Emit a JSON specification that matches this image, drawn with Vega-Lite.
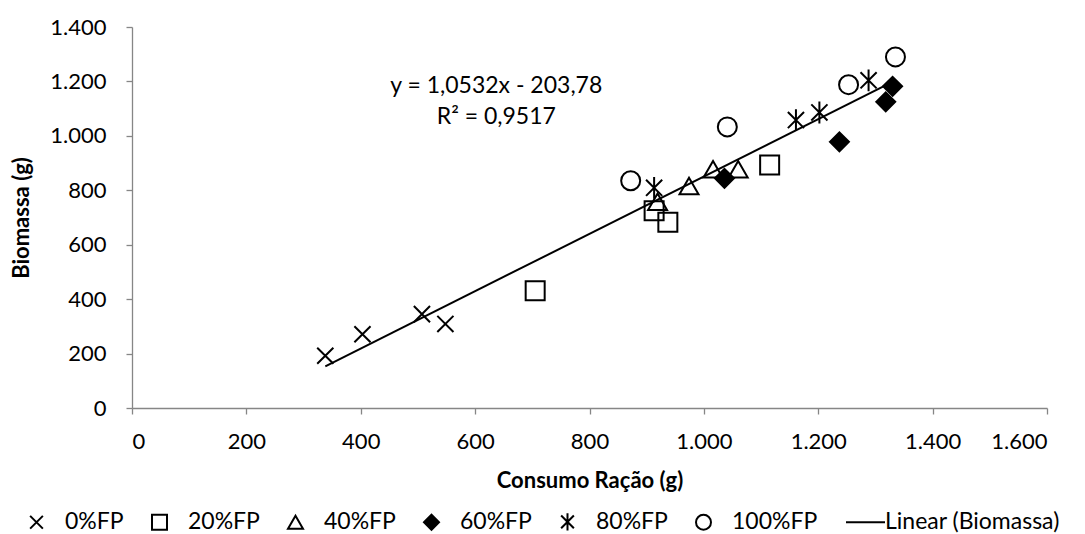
{
  "$schema": "https://vega.github.io/schema/vega-lite/v6.json",
  "width": 915,
  "height": 381,
  "autosize": {"type": "none"},
  "padding": {"left": 132, "top": 27, "right": 38, "bottom": 126},
  "background": "white",
  "config": {
    "view": {"stroke": null},
    "locale": {"number": {"decimal": ",", "thousands": ".", "grouping": [3], "currency": ["R$", ""]}},
    "font": "Lato",
    "axis": {
      "grid": false,
      "domainColor": "#868686",
      "domainWidth": 1.3,
      "tickColor": "#868686",
      "tickWidth": 1.3,
      "tickSize": 6,
      "labelFont": "Lato",
      "labelFontSize": 22,
      "labelColor": "black",
      "titleFont": "Lato",
      "titleFontSize": 22,
      "titleFontWeight": "bold",
      "titleColor": "black"
    },
    "legend": {
      "orient": "none",
      "direction": "horizontal",
      "columns": 7,
      "legendX": -107,
      "legendY": 483,
      "padding": 0,
      "symbolSize": 225,
      "symbolStrokeWidth": 2,
      "symbolStrokeColor": "black",
      "labelFont": "Lato",
      "labelFontSize": 23,
      "labelColor": "black",
      "labelOffset": 17,
      "labelLimit": 400,
      "columnPadding": 24,
      "title": null
    }
  },
  "data": {
    "values": [
      {"consumo": 338, "biomassa": 192, "tratamento": "0%FP"},
      {"consumo": 403, "biomassa": 271, "tratamento": "0%FP"},
      {"consumo": 507, "biomassa": 345, "tratamento": "0%FP"},
      {"consumo": 548, "biomassa": 309, "tratamento": "0%FP"},
      {"consumo": 705, "biomassa": 431, "tratamento": "20%FP"},
      {"consumo": 913, "biomassa": 725, "tratamento": "20%FP"},
      {"consumo": 937, "biomassa": 683, "tratamento": "20%FP"},
      {"consumo": 1115, "biomassa": 893, "tratamento": "20%FP"},
      {"consumo": 919, "biomassa": 758, "tratamento": "40%FP"},
      {"consumo": 974, "biomassa": 816, "tratamento": "40%FP"},
      {"consumo": 1016, "biomassa": 877, "tratamento": "40%FP"},
      {"consumo": 1060, "biomassa": 877, "tratamento": "40%FP"},
      {"consumo": 1036, "biomassa": 844, "tratamento": "60%FP"},
      {"consumo": 1237, "biomassa": 978, "tratamento": "60%FP"},
      {"consumo": 1318, "biomassa": 1125, "tratamento": "60%FP"},
      {"consumo": 1330, "biomassa": 1182, "tratamento": "60%FP"},
      {"consumo": 913, "biomassa": 809, "tratamento": "80%FP"},
      {"consumo": 1161, "biomassa": 1058, "tratamento": "80%FP"},
      {"consumo": 1202, "biomassa": 1086, "tratamento": "80%FP"},
      {"consumo": 1288, "biomassa": 1204, "tratamento": "80%FP"},
      {"consumo": 872, "biomassa": 835, "tratamento": "100%FP"},
      {"consumo": 1041, "biomassa": 1033, "tratamento": "100%FP"},
      {"consumo": 1253, "biomassa": 1188, "tratamento": "100%FP"},
      {"consumo": 1335, "biomassa": 1290, "tratamento": "100%FP"}
    ]
  },
  "encoding": {
    "x": {
      "field": "consumo",
      "type": "quantitative",
      "scale": {"domain": [0, 1600], "nice": false, "zero": true},
      "axis": {
        "title": "Consumo Ração (g)",
        "values": [0, 200, 400, 600, 800, 1000, 1200, 1400, 1600],
        "format": ",d",
        "labelPadding": 17,
        "titlePadding": 18
      }
    },
    "y": {
      "field": "biomassa",
      "type": "quantitative",
      "scale": {"domain": [0, 1400], "nice": false},
      "axis": {
        "title": "Biomassa (g)",
        "values": [0, 200, 400, 600, 800, 1000, 1200, 1400],
        "format": ",d",
        "labelPadding": 20,
        "titlePadding": 16
      }
    }
  },
  "layer": [
    {
      "transform": [{"regression": "biomassa", "on": "consumo", "method": "linear"}],
      "mark": {"type": "line", "color": "black", "strokeWidth": 2}
    },
    {
      "mark": {"type": "point", "filled": true, "size": 361, "strokeWidth": 2, "opacity": 1},
      "encoding": {
        "shape": {
          "field": "tratamento",
          "type": "nominal",
          "scale": {
            "domain": ["0%FP", "20%FP", "40%FP", "60%FP", "80%FP", "100%FP", "Linear (Biomassa)"],
            "range": [
              "M-0.85,-0.85L0.85,0.85M-0.85,0.85L0.85,-0.85",
              "square",
              "triangle-up",
              "diamond",
              "M-0.85,-0.85L0.85,0.85M-0.85,0.85L0.85,-0.85M0,-1.15L0,1.15",
              "circle",
              "M-1.4,0L3.8,0"
            ]
          },
          "legend": {"title": null}
        },
        "fill": {
          "field": "tratamento",
          "type": "nominal",
          "scale": {
            "domain": ["0%FP", "20%FP", "40%FP", "60%FP", "80%FP", "100%FP", "Linear (Biomassa)"],
            "range": ["transparent", "transparent", "transparent", "black", "transparent", "transparent", "transparent"]
          },
          "legend": {"title": null}
        },
        "stroke": {
          "field": "tratamento",
          "type": "nominal",
          "scale": {
            "domain": ["0%FP", "20%FP", "40%FP", "60%FP", "80%FP", "100%FP", "Linear (Biomassa)"],
            "range": ["black", "black", "black", "black", "black", "black", "black"]
          },
          "legend": {"title": null}
        }
      }
    },
    {
      "transform": [{"filter": "datum.consumo == 338"}],
      "mark": {"type": "text", "font": "Lato", "fontSize": 23, "align": "center", "baseline": "middle", "lineHeight": 31, "color": "black"},
      "encoding": {
        "x": {"datum": 637},
        "y": {"datum": 1182},
        "text": {"value": ["y = 1,0532x - 203,78", "R² = 0,9517"]}
      }
    }
  ]
}
